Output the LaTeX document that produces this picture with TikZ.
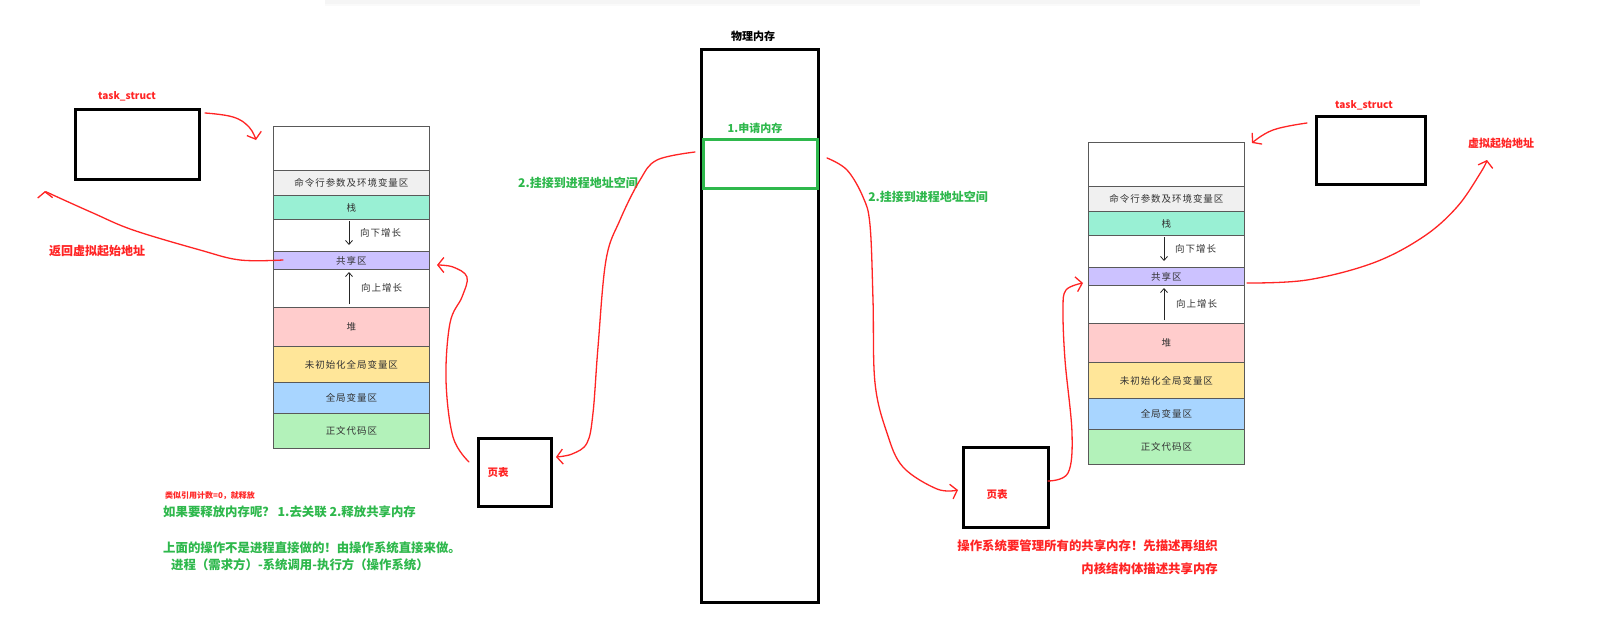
\documentclass[tikz,border=0pt]{standalone}
\usepackage{fontspec}
\setmainfont{Noto Sans CJK SC}
\usetikzlibrary{arrows.meta}
\definecolor{rd}{RGB}{255,36,36}
\definecolor{gn}{RGB}{46,184,76}
\definecolor{cmdc}{RGB}{240,240,240}
\definecolor{stkc}{RGB}{153,240,212}
\definecolor{shc}{RGB}{204,194,255}
\definecolor{heapc}{RGB}{255,204,204}
\definecolor{uninitc}{RGB}{255,230,153}
\definecolor{globc}{RGB}{168,213,255}
\definecolor{textc}{RGB}{179,242,186}
\tikzset{
  seg/.style={draw=black!65, line width=0.8pt, minimum width=156pt, anchor=north west, inner sep=0pt,
    font={\fontsize{9.5pt}{11pt}\selectfont\addfontfeatures{LetterSpace=10}}, text=black!80},
  segtxt/.style={inner sep=0pt, font={\fontsize{9.5pt}{11pt}\selectfont\addfontfeatures{LetterSpace=10}}, text=black!80},
  sarrow/.style={draw=black!85, line width=0.8pt, -{Straight Barb[length=4pt,width=7pt]}},
  blkbox/.style={draw=black, line width=2.6pt, anchor=north west, inner sep=0pt},
  redlbl/.style={text=rd, inner sep=0pt, font={\bfseries\fontsize{12pt}{14pt}\selectfont}},
  smallred/.style={text=rd, inner sep=0pt, font={\bfseries\fontsize{10.5pt}{12pt}\selectfont}},
  grnlbl/.style={text=gn, inner sep=0pt, font={\bfseries\fontsize{12pt}{14pt}\selectfont}},
  bigfont/.style={font={\bfseries\fontsize{12.4pt}{14pt}\selectfont}},
  rcurve/.style={draw=rd, line width=1.3pt, line cap=round, line join=round,
    -{Straight Barb[length=6pt,width=15pt]}},
}
\newcommand\memStack[3]{%
  \begin{scope}[shift={(#2,#3)}]
    \node[seg, minimum height=44pt, fill=white] (#1top) at (0,0) {};
    \node[seg, minimum height=25pt, fill=cmdc] (#1cmd) at (0,44) {命令行参数及环境变量区};
    \node[seg, minimum height=24pt, fill=stkc] (#1stk) at (0,69) {栈};
    \node[seg, minimum height=32pt, fill=white] (#1dn) at (0,93) {};
    \node[seg, minimum height=18pt, fill=shc] (#1sh) at (0,125) {共享区};
    \node[seg, minimum height=38pt, fill=white] (#1up) at (0,143) {};
    \node[seg, minimum height=39pt, fill=heapc] (#1heap) at (0,181) {堆};
    \node[seg, minimum height=36pt, fill=uninitc] (#1bss) at (0,220) {未初始化全局变量区};
    \node[seg, minimum height=31pt, fill=globc] (#1data) at (0,256) {全局变量区};
    \node[seg, minimum height=35pt, fill=textc] (#1code) at (0,287) {正文代码区};
    \coordinate (#1dna) at (76,95);
    \coordinate (#1dnb) at (76,119);
    \draw[sarrow] (#1dna) -- (#1dnb);
    \node[segtxt, anchor=west] (#1dnt) at (87,107) {向下增长};
    \coordinate (#1upa) at (76,178);
    \coordinate (#1upb) at (76,146);
    \draw[sarrow] (#1upa) -- (#1upb);
    \node[segtxt, anchor=west] (#1upt) at (88,162) {向上增长};
  \end{scope}}
\begin{document}
\begin{tikzpicture}[x=1pt,y=-1pt]
\useasboundingbox (0,0) rectangle (1600,629);
\fill[white] (0,0) rectangle (1600,629);
\fill[black!4] (325,0) rectangle (1420,4);
\fill[black!2] (325,4) rectangle (1420,6);

% left process
\node[redlbl, font={\bfseries\fontsize{10pt}{12pt}\selectfont}] (ltl) at (127,96) {task\_struct};
\node[blkbox, minimum width=124pt, minimum height=70pt] (ltask) at (74,108) {};
\memStack{l}{273}{126}
\node[redlbl] (lret) at (97,251) {返回虚拟起始地址};
\node[blkbox, minimum width=73pt, minimum height=68pt] (lpt) at (477,437) {};
\node[smallred] (lptt) at (498,473) {页表};

% physical memory
\node[inner sep=0pt, font={\bfseries\fontsize{11pt}{13pt}\selectfont}] (pml) at (753,36) {物理内存};
\node[blkbox, minimum width=117pt, minimum height=553pt] (pm) at (700,48) {};
\node[draw=gn, line width=2.5pt, anchor=north west, minimum width=114pt, minimum height=49pt, inner sep=0pt] (shm) at (702,138) {};
\node[grnlbl, font={\bfseries\fontsize{11pt}{13pt}\selectfont}] (apply) at (755,128) {1.申请内存};
\node[grnlbl] (hangl) at (578,183) {2.挂接到进程地址空间};
\node[grnlbl] (hangr) at (928,197) {2.挂接到进程地址空间};

% right process
\node[redlbl, font={\bfseries\fontsize{10pt}{12pt}\selectfont}] (rtl) at (1364,105) {task\_struct};
\node[blkbox, minimum width=109pt, minimum height=68pt] (rtask) at (1315,115) {};
\memStack{r}{1088}{142}
\node[redlbl, font={\bfseries\fontsize{11pt}{13pt}\selectfont}] (rvirt) at (1501,143) {虚拟起始地址};
\node[blkbox, minimum width=85pt, minimum height=80pt] (rpt) at (962,446) {};
\node[smallred] (rptt) at (997,495) {页表};

% bottom texts
\node[text=rd, inner sep=0pt, anchor=west, font={\bfseries\fontsize{8pt}{9pt}\selectfont}] (refc) at (165,496) {类似引用计数=0，就释放};
\node[grnlbl, bigfont, anchor=west] (rel1) at (163,512) {如果要释放内存呢？ 1.去关联 2.释放共享内存};
\node[grnlbl, bigfont, anchor=west] (rel2) at (163,548) {上面的操作不是进程直接做的！由操作系统直接来做。};
\node[grnlbl, bigfont, anchor=west] (rel3) at (171,565) {进程（需求方）-系统调用-执行方（操作系统）};
\node[redlbl, bigfont, anchor=east] (os1) at (1218,546) {操作系统要管理所有的共享内存！先描述再组织};
\node[redlbl, bigfont, anchor=east] (os2) at (1218,569) {内核结构体描述共享内存};

% red hand-drawn connectors
\draw[rcurve] plot[smooth, tension=0.7] coordinates {(205,113) (233,117) (249,127) (256,140)};
\draw[rcurve] plot[smooth, tension=0.6] coordinates {(695,152) (657,160) (640,180) (620,220) (606,260) (598,347) (593,413) (587,443) (572,454) (556,457)};
\draw[rcurve] plot[smooth, tension=0.6] coordinates {(469,462) (453,437) (446,380) (450,323) (462,297) (467,277) (453,267) (437,265)};
\draw[rcurve] plot[smooth, tension=0.6] coordinates {(283,260) (240,260) (200,250) (133,230) (93,213) (53,195) (45,191)};
\draw[rcurve] plot[smooth, tension=0.6] coordinates {(827,158) (847,170) (863,197) (870,225) (873,300) (875,383) (887,433) (903,467) (937,489) (958,490)};
\draw[rcurve] plot[smooth, tension=0.6] coordinates {(1048,481) (1068,473) (1072,433) (1065,360) (1063,310) (1066,290) (1083,283)};
\draw[rcurve] plot[smooth, tension=0.7] coordinates {(1307,123) (1273,130) (1252,143)};
\draw[rcurve] plot[smooth, tension=0.6] coordinates {(1247,283) (1307,280) (1373,263) (1423,237) (1457,207) (1481,172) (1487,160)};
\end{tikzpicture}
\end{document}
